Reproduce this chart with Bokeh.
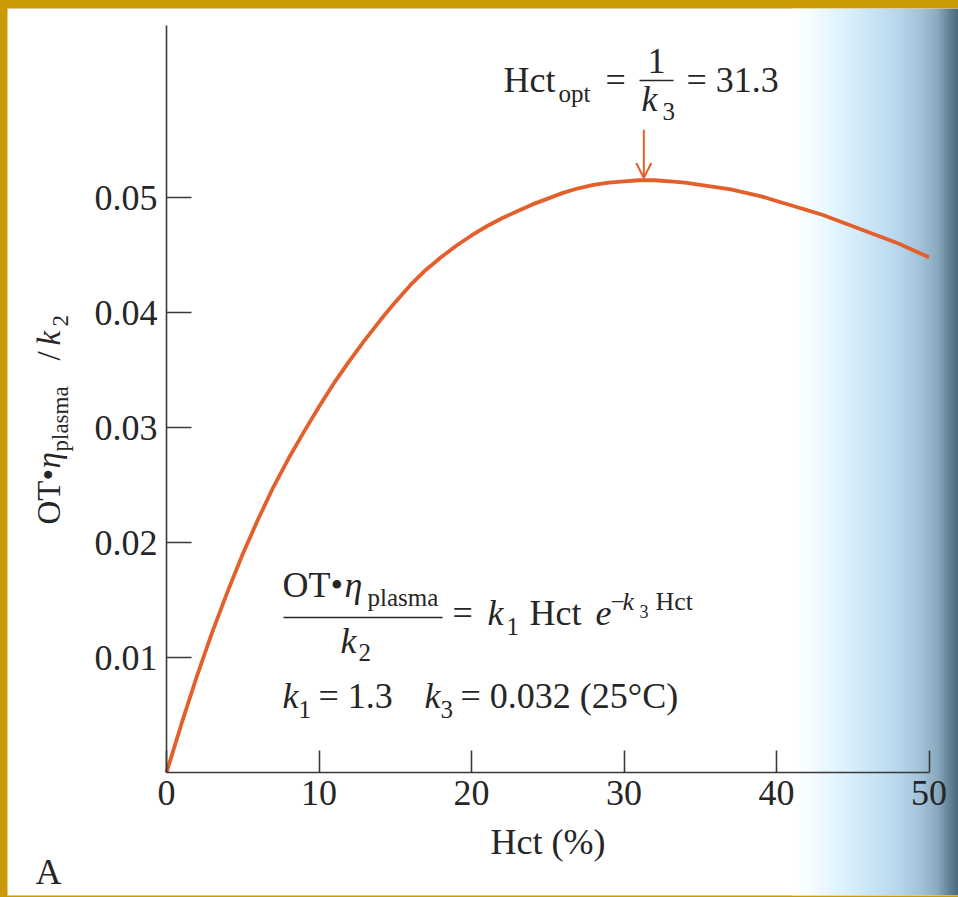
import math
from bokeh.plotting import figure
from bokeh.models import Label, Arrow, OpenHead, FixedTicker, Range1d
from bokeh.embed import file_html
from bokeh.resources import INLINE

# ---------------- data ----------------
hct = list(range(0, 51))
ot_ratio = [0.0000, 0.0043, 0.0084, 0.0122, 0.0157, 0.0190, 0.0220, 0.0248,
            0.0273, 0.0296, 0.0318, 0.0339, 0.0358, 0.0376, 0.0393, 0.0409,
            0.0424, 0.0437, 0.0448, 0.0458, 0.0467, 0.0475, 0.0482, 0.0488,
            0.0494, 0.0499, 0.0504, 0.0508, 0.0511, 0.0513, 0.0514, 0.0515,
            0.0515, 0.0514, 0.0513, 0.0511, 0.0509, 0.0507, 0.0504, 0.0501,
            0.0497, 0.0493, 0.0489, 0.0485, 0.0480, 0.0475, 0.0470, 0.0465,
            0.0460, 0.0454, 0.0448]
hct_opt = 31.3
x_ticks = [0, 10, 20, 30, 40, 50]
x_tick_labels = ["0", "10", "20", "30", "40", "50"]
y_ticks = [0.01, 0.02, 0.03, 0.04, 0.05]
y_tick_labels = ["0.01", "0.02", "0.03", "0.04", "0.05"]

# ---------------- layout / style ----------------
W, H = 958, 897
BL, BT, BB = 7, 8, 2         # orange frame of the slide
PX0, SX = 166.0, 15.25       # page x of Hct = 0, px per unit
PY0, SY = 772.0, 11500.0     # page y of value 0, px per unit
FONT = "Liberation Serif"
INK = "#262626"
AXIS = "#3a3a3a"
CURVE = "#E35F2B"
BORDER = "#CC9A06"
BASE_SHIFT = 0.36            # label anchor correction (em)


def dx(px):
    return (px - PX0) / SX


def dy(py):
    return (PY0 - py) / SY


p = figure(width=W, height=H, output_backend="svg", toolbar_location=None,
           x_range=Range1d(dx(BL), dx(W)), y_range=Range1d(dy(H - BB), dy(BT)),
           min_border_left=BL, min_border_top=BT, min_border_bottom=BB,
           min_border_right=0, background_fill_color="white",
           border_fill_color=BORDER, outline_line_color=None)
p.grid.visible = False

try:
    from bokeh.models import GlobalInlineStyleSheet
    p.stylesheets = [GlobalInlineStyleSheet(
        css="html, body { background: %s; overflow: hidden; }" % BORDER)]
except Exception:
    pass

# page-curl shading on the right (decoration of the scan)
stops = [(792, (255, 255, 255)), (812, (243, 251, 255)), (832, (228, 246, 254)),
         (862, (207, 233, 249)), (893, (187, 217, 238)), (920, (163, 195, 218)),
         (937, (137, 169, 191)), (948, (100, 132, 152)), (958, (74, 104, 122))]


def grad_color(px):
    for (a, ca), (b, cb) in zip(stops[:-1], stops[1:]):
        if a <= px <= b:
            t = (px - a) / (b - a)
            c = [int(round(ca[i] + (cb[i] - ca[i]) * t)) for i in range(3)]
            return "#%02x%02x%02x" % tuple(c)
    return "#%02x%02x%02x" % stops[-1][1]


lefts, rights, cols = [], [], []
for px in range(792, 958, 2):
    lefts.append(dx(px))
    rights.append(dx(px + 2.5))
    cols.append(grad_color(px + 1))
p.quad(left=lefts, right=rights, top=dy(BT), bottom=dy(H - BB), color=cols,
       line_color=None)

# curve
p.line(hct, ot_ratio, line_color=CURVE, line_width=3.8, line_join="round")

# arrow to optimum
peak = max(ot_ratio)
p.add_layout(Arrow(end=OpenHead(size=15, line_color=CURVE, line_width=2),
                   x_start=hct_opt, y_start=peak + 0.0044,
                   x_end=hct_opt, y_end=peak + 0.0002,
                   line_color=CURVE, line_width=2))

# axes
xa = p.xaxis[0]
xa.ticker = FixedTicker(ticks=x_ticks)
xa.major_label_overrides = {t: s for t, s in zip(x_ticks, x_tick_labels)}
xa.fixed_location = 0
xa.bounds = (0, 50)
xa.axis_line_color = AXIS
xa.axis_line_width = 1.6
xa.major_tick_line_color = AXIS
xa.major_tick_line_width = 1.6
xa.major_tick_in = 22
xa.major_tick_out = 0
xa.minor_tick_line_color = None
xa.major_label_text_font = FONT
xa.major_label_text_font_size = "36px"
xa.major_label_text_color = INK
xa.major_label_standoff = 8
xa.axis_label = "Hct (%)"
xa.axis_label_text_font = FONT
xa.axis_label_text_font_size = "36px"
xa.axis_label_text_font_style = "normal"
xa.axis_label_text_color = INK
xa.axis_label_standoff = 14

ya = p.yaxis[0]
ya.ticker = FixedTicker(ticks=y_ticks)
ya.major_label_overrides = {t: s for t, s in zip(y_ticks, y_tick_labels)}
ya.fixed_location = 0
ya.bounds = (0, 0.065)
ya.axis_line_color = AXIS
ya.axis_line_width = 1.6
ya.major_tick_line_color = AXIS
ya.major_tick_line_width = 1.6
ya.major_tick_in = 25
ya.major_tick_out = 0
ya.minor_tick_line_color = None
ya.major_label_text_font = FONT
ya.major_label_text_font_size = "36px"
ya.major_label_text_color = INK
ya.major_label_standoff = 9


def txt(px, py, s, size=36, italic=False, align="left", rotated=False):
    """px, py: page position of the text's start on its baseline."""
    if rotated:
        ax, ay, ang = px - BASE_SHIFT * size, py, math.pi / 2
    else:
        ax, ay, ang = px, py - BASE_SHIFT * size, 0.0
    p.add_layout(Label(x=dx(ax), y=dy(ay), text=s, text_font=FONT,
                       text_font_size="%dpx" % size,
                       text_font_style="italic" if italic else "normal",
                       text_color=INK, text_align=align,
                       text_baseline="alphabetic", angle=ang))


# top annotation: Hct_opt = 1/k3 = 31.3
txt(503, 92, "Hct")
txt(558, 102, "opt", 25)
txt(605, 92, "=")
txt(656, 73, "1", align="center")
txt(641, 111, "k", italic=True)
txt(662, 120, "3", 25)
txt(686, 92, "= 31.3")

# middle formula
txt(282, 597, "OT•")
txt(344, 597, "η", italic=True)
txt(367, 606, "plasma", 25)
txt(340, 653, "k", italic=True)
txt(358, 661, "2", 25)
txt(452, 625, "=")
txt(487, 625, "k", italic=True)
txt(506, 635, "1", 25)
txt(529, 625, "Hct")
txt(595, 625, "e", italic=True)
txt(610, 610, "−", 25)
txt(622, 610, "k", 26, italic=True)
txt(639, 617, "3", 18)
txt(655, 610, "Hct", 26)

# constants line
txt(282, 708, "k", italic=True)
txt(298, 718, "1", 25)
txt(318, 708, "= 1.3")
txt(424, 708, "k", italic=True)
txt(440, 718, "3", 25)
txt(460, 708, "= 0.032 (25°C)")

# fraction bars
p.segment(x0=[dx(639), dx(283)], y0=[dy(80), dy(617)],
          x1=[dx(673), dx(442)], y1=[dy(80), dy(617)],
          line_color=INK, line_width=1.6)

# panel letter
txt(35, 884, "A")

# rotated y-axis title: OT·η_plasma /k2
txt(60, 524, "OT•", 33, rotated=True)
txt(60, 468, "η", 33, italic=True, rotated=True)
txt(68, 451, "plasma", 23, rotated=True)
txt(60, 360, "/", 33, rotated=True)
txt(60, 345, "k", 33, italic=True, rotated=True)
txt(68, 326, "2", 23, rotated=True)

open("out.html", "w").write(file_html(p, INLINE))
